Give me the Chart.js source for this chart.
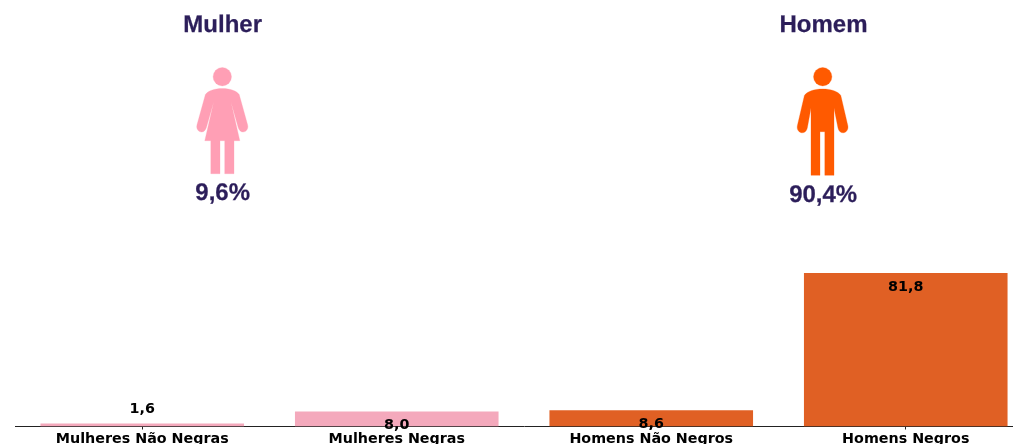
<!DOCTYPE html>
<html lang="pt">
<head>
<meta charset="utf-8">
<script src="https://cdn.jsdelivr.net/npm/chart.js@4"></script>
<style>
html,body{margin:0;padding:0;background:#fff;width:1013px;height:444px;overflow:hidden}
#wrap{position:absolute;left:0;top:0;width:1034px;height:460px}
#art{position:absolute;left:0;top:0;width:1013px;height:444px}
.t{font:bold 24px "Liberation Sans",Arial,sans-serif;fill:#2c1e5a;stroke:#2c1e5a;stroke-width:.25;text-anchor:middle;text-rendering:geometricPrecision}
</style>
</head>
<body>
<div id="wrap"><canvas id="c" width="1034" height="460"></canvas></div>
<svg id="art" viewBox="0 0 1013 444" xmlns="http://www.w3.org/2000/svg">
  <text class="t" x="222.7" y="32">Mulher</text>
  <text class="t" x="222.7" y="200">9,6%</text>
  <text class="t" x="823.5" y="32">Homem</text>
  <text class="t" x="823.2" y="202">90,4%</text>
  <g fill="#ff9fb5" stroke="#ff9fb5" stroke-width=".3">
    <circle cx="222.3" cy="76.7" r="9.2"/>
    <path d="M222.3 88.6C214 88.6 208 91 205.4 94.5L197 124.8C195.8 129.5 199 132 201.6 132C204 132 205.6 130 206.4 127.5L213.7 102L204.8 140.7H210.8V173.7H220V140.7H224.7V173.7H234V140.7H239.8L231 102L238.2 127.5C239 130 240.6 132 243 132C245.6 132 248.8 129.5 247.6 124.8L239.2 94.5C236.6 91 230.6 88.6 222.3 88.6Z"/>
  </g>
  <g fill="#ff5a00" stroke="#ff5a00" stroke-width=".3">
    <circle cx="822.7" cy="76.7" r="9.2"/>
    <path d="M822.6 89C814 89 807 91.5 804.4 95.5L797.4 125.5C796.4 130 799.4 132.8 802.2 132.8C804.8 132.8 806.6 131 807.3 128L811 108V175.3H820V131.7H824.8V175.3H834V108L838 128C838.7 131 840.5 132.8 843 132.8C845.8 132.8 848.8 130 847.8 125.5L840.8 95.5C838.2 91.5 831.2 89 822.6 89Z"/>
  </g>
</svg>
<script>
const categories = ["Mulheres Não Negras", "Mulheres Negras", "Homens Não Negros", "Homens Negros"];
const values = [1.6, 8.0, 8.6, 81.8];
const valueLabels = ["1,6", "8,0", "8,6", "81,8"];
const barColors = ["#f4a9bc", "#f4a9bc", "#e06024", "#e06024"];

const barLabels = {
  id: "barLabels",
  afterDatasetsDraw(chart) {
    const { ctx } = chart;
    const meta = chart.getDatasetMeta(0);
    ctx.save();
    ctx.font = 'bold 14.3px "DejaVu Sans"';
    ctx.fillStyle = "#000";
    ctx.textAlign = "center";
    ctx.textBaseline = "middle";
    meta.data.forEach((bar, i) => {
      const small = values[i] < 3;
      ctx.fillText(valueLabels[i], bar.x, small ? bar.y - 14.5 : bar.y + 14);
    });
    ctx.restore();
  }
};

new Chart(document.getElementById("c"), {
  type: "bar",
  data: {
    labels: categories,
    datasets: [{
      data: values,
      backgroundColor: barColors,
      borderWidth: 0,
      categoryPercentage: 1,
      barPercentage: 0.8
    }]
  },
  options: {
    responsive: false,
    animation: false,
    devicePixelRatio: 1,
    layout: { padding: { left: 15, right: 1, top: 257.6, bottom: 13.5 } },
    plugins: { legend: { display: false }, tooltip: { enabled: false } },
    scales: {
      y: { display: false, min: 0, max: 90 },
      x: {
        offset: true,
        afterFit(s) { s.height = 20; },
        grid: { offset: false, drawOnChartArea: false, drawTicks: true, tickLength: 3, color: "#222", lineWidth: 1 },
        border: { display: true, color: "#222", width: 1 },
        ticks: {
          autoSkip: false, maxRotation: 0, minRotation: 0, padding: 1,
          color: "#000",
          font: { family: '"DejaVu Sans"', size: 14.3, weight: "bold" }
        }
      }
    }
  },
  plugins: [barLabels]
});
</script>
</body>
</html>
